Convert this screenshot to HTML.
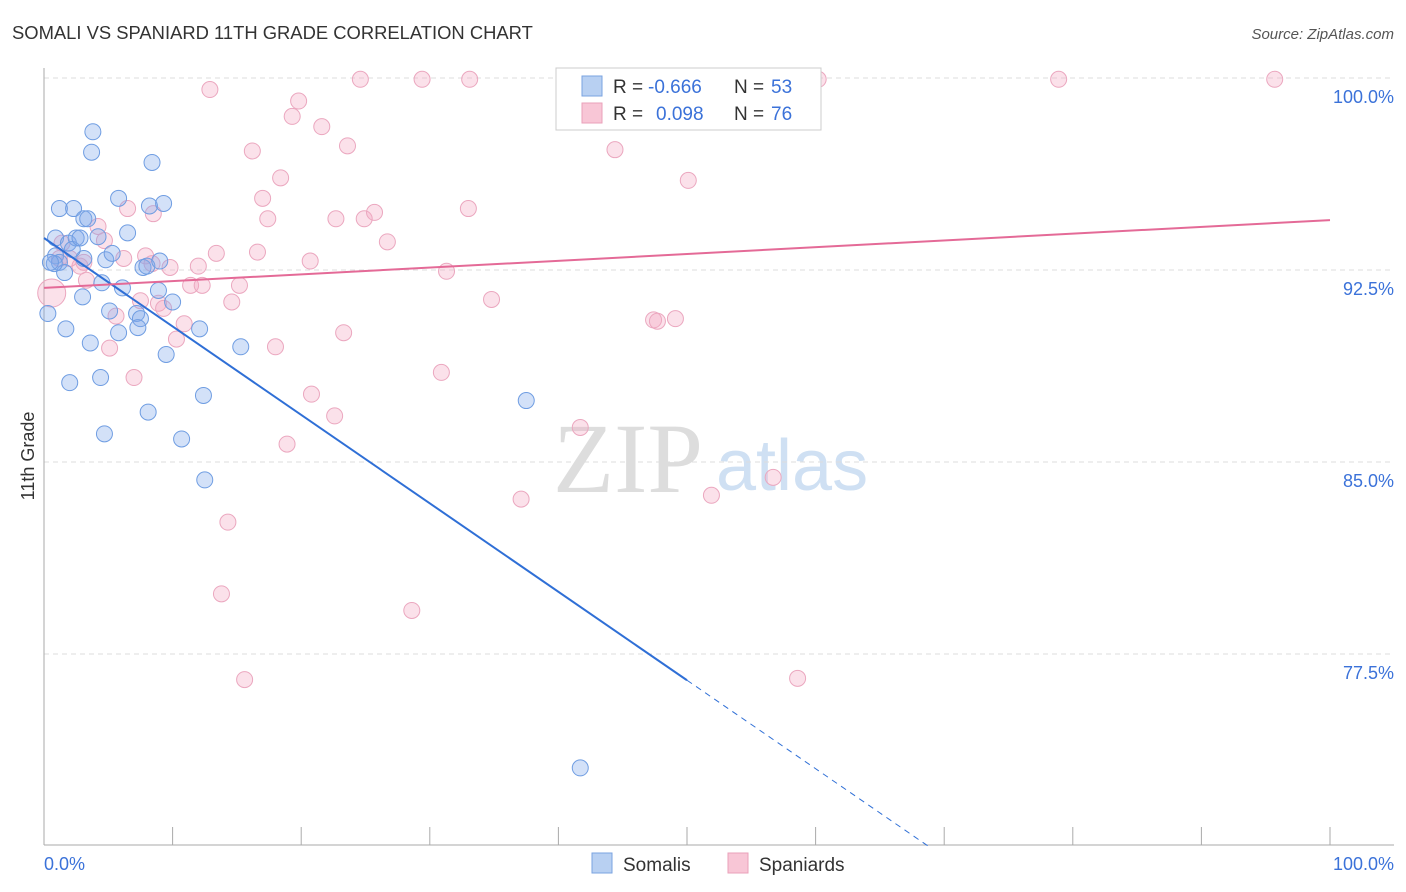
<!DOCTYPE html>
<html><head><meta charset="utf-8"><style>
body{margin:0;background:#fff;font-family:"Liberation Sans",sans-serif;}
svg{display:block}
</style></head><body>
<svg id="c" width="1406" height="892" viewBox="0 0 1406 892">
<text x="12" y="39" font-size="18.4" fill="#333">SOMALI VS SPANIARD 11TH GRADE CORRELATION CHART</text>
<text x="1394" y="39" font-size="15" fill="#555" font-style="italic" text-anchor="end">Source: ZipAtlas.com</text>
<text x="553" y="492" font-size="100" fill="#ddd" font-family="Liberation Serif">ZIP</text>
<text x="716" y="490" font-size="72" fill="#cfe0f3">atlas</text>
<g id="grid"></g><g id="pts"></g><g id="lines"></g>
<text transform="translate(34,456) rotate(-90)" font-size="18" fill="#333" text-anchor="middle">11th Grade</text>
<text x="44" y="870" font-size="18" fill="#3b72d9">0.0%</text>
<text x="1394" y="870" font-size="18" fill="#3b72d9" text-anchor="end">100.0%</text>
<g>
<rect x="556" y="68" width="265" height="62" fill="#fff" stroke="#ccc"/>
<rect x="582" y="76" width="20" height="20" fill="#b8d0f2" stroke="#7aa3e0"/>
<rect x="582" y="103" width="20" height="20" fill="#f8c6d6" stroke="#eaa0ba"/>
<text x="613" y="93" font-size="19" fill="#333">R =</text>
<text x="648" y="93" font-size="19" fill="#3b72d9">-0.666</text>
<text x="734" y="93" font-size="19" fill="#333">N =</text>
<text x="771" y="93" font-size="19" fill="#3b72d9">53</text>
<text x="613" y="120" font-size="19" fill="#333">R =</text>
<text x="656" y="120" font-size="19" fill="#3b72d9">0.098</text>
<text x="734" y="120" font-size="19" fill="#333">N =</text>
<text x="771" y="120" font-size="19" fill="#3b72d9">76</text>
</g>
<g>
<rect x="592" y="853" width="20" height="20" fill="#b8d0f2" stroke="#7aa3e0"/>
<text x="623" y="871" font-size="19" fill="#333">Somalis</text>
<rect x="728" y="853" width="20" height="20" fill="#f8c6d6" stroke="#eaa0ba"/>
<text x="759" y="871" font-size="19" fill="#333">Spaniards</text>
</g>
</svg>
<script>
const yTicks=[100,92.5,85,77.5];
const yTickLabels=["100.0%","92.5%","85.0%","77.5%"];
const blueX=[3.8,3.7,8.4,1.2,2.3,5.8,8.2,9.3,3.1,3.4,0.9,1.9,2.5,4.2,6.5,0.9,1.2,1.6,3.1,4.8,5.3,7.7,8.0,9.0,0.8,4.5,6.1,8.9,3.0,10.0,0.3,5.1,7.2,7.5,1.7,7.3,5.8,12.1,3.6,9.5,15.3,2.0,4.4,12.4,8.1,4.7,10.7,37.5,12.5,41.7,2.2,0.5,2.8];
const blueY=[97.9,97.1,96.7,94.9,94.9,95.3,95.0,95.1,94.5,94.5,93.75,93.55,93.75,93.8,93.95,93.05,92.8,92.4,92.95,92.9,93.15,92.6,92.65,92.85,92.75,92.0,91.8,91.7,91.45,91.25,90.8,90.9,90.8,90.6,90.2,90.25,90.05,90.2,89.65,89.2,89.5,88.1,88.3,87.6,86.95,86.1,85.9,87.4,84.3,73.05,93.3,92.8,93.75];
const pinkX=[12.9,19.8,19.3,21.6,24.6,29.4,33.1,40.7,49.5,60.2,78.9,95.7,16.2,23.6,44.4,18.4,50.1,17.0,6.5,8.5,17.4,22.7,24.9,25.7,33.0,4.2,1.4,4.7,26.7,13.4,16.6,7.9,1.2,3.1,6.2,2.8,8.4,9.8,12.0,20.7,31.3,3.3,11.4,12.3,15.2,14.6,8.9,9.3,10.9,34.8,5.6,47.4,47.7,49.1,23.3,10.3,5.1,18.0,7.0,30.9,20.8,22.6,18.9,41.7,56.7,51.9,37.1,14.3,13.8,28.6,15.6,58.6,0.6,2.0,7.5];
const pinkY=[99.55,99.1,98.5,98.1,99.95,99.95,99.95,99.95,99.95,99.95,99.95,99.95,97.15,97.35,97.2,96.1,96.0,95.3,94.9,94.7,94.5,94.5,94.5,94.75,94.9,94.2,93.55,93.65,93.6,93.15,93.2,93.05,92.95,92.8,92.95,92.65,92.75,92.6,92.65,92.85,92.45,92.1,91.9,91.9,91.9,91.25,91.2,91.0,90.4,91.35,90.7,90.55,90.5,90.6,90.05,89.8,89.45,89.5,88.3,88.5,87.65,86.8,85.7,86.35,84.4,83.7,83.55,82.65,79.85,79.2,76.5,76.55,91.6,92.95,91.3];
const blueLine=[0,93.75,100,59.2];
const pinkLine=[0,91.8,100,94.45];
const NS="http://www.w3.org/2000/svg";
const sx=v=>44+v*12.86, sy=v=>78+(100-v)*25.6;
function mk(t,a,p){const e=document.createElementNS(NS,t);for(const k in a)e.setAttribute(k,a[k]);p.appendChild(e);return e;}
const grid=document.getElementById('grid');
yTicks.forEach((t,i)=>{
 const l=mk('line',{x1:44,x2:1394,y1:sy(t),y2:sy(t),stroke:'#ddd','stroke-dasharray':'5,4'},grid);
 
 
 const tx=mk('text',{x:1394,y:sy(t)+25,'font-size':18,fill:'#3b72d9','text-anchor':'end'},grid);
 tx.textContent=yTickLabels[i];
 
 
});
const ax=mk('line',{x1:44,x2:1394,y1:845,y2:845,stroke:'#aaa'},grid);


const ay=mk('line',{x1:44,x2:44,y1:68,y2:845,stroke:'#aaa'},grid);


for(let i=1;i<=10;i++){
 const t=mk('line',{x1:sx(i*10),x2:sx(i*10),y1:827,y2:845,stroke:'#aaa'},grid);
 
 
}
const pts=document.getElementById('pts');
pinkX.forEach((x,i)=>{
 const c=mk('circle',{cx:sx(x),cy:sy(pinkY[i]),r:i==72?14:8,fill:'rgba(244,170,196,0.35)',stroke:'#eba7bf','stroke-width':1},pts);
 
 
});
blueX.forEach((x,i)=>{
 const c=mk('circle',{cx:sx(x),cy:sy(blueY[i]),r:8,fill:'rgba(130,170,235,0.35)',stroke:'#6f9de2','stroke-width':1},pts);
 
 
});
const lines=document.getElementById('lines');
const bf=x=>blueLine[1]+(blueLine[3]-blueLine[1])*x/100;
const bs=mk('line',{x1:sx(0),y1:sy(bf(0)),x2:sx(50),y2:sy(bf(50)),stroke:'#2f6fd6','stroke-width':2},lines);


const bd=mk('line',{x1:sx(50),y1:sy(bf(50)),x2:sx(69.0),y2:sy(bf(69.0)),stroke:'#2f6fd6','stroke-width':1,'stroke-dasharray':'6,5'},lines);


const pl=mk('line',{x1:sx(0),y1:sy(pinkLine[1]),x2:sx(100),y2:sy(pinkLine[3]),stroke:'#e46a97','stroke-width':2},lines);


</script>
</body></html>
